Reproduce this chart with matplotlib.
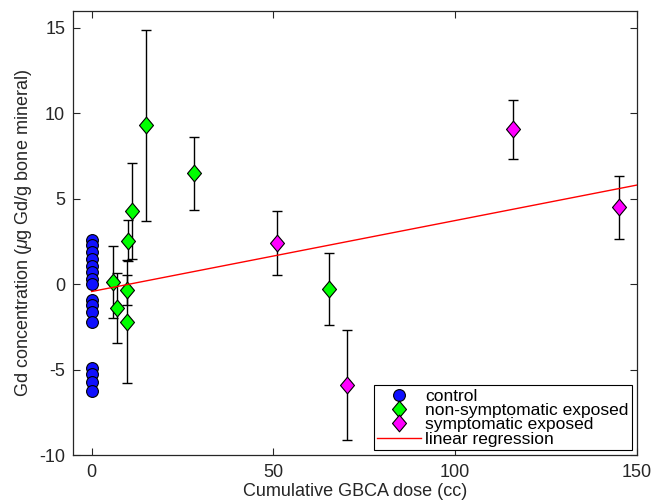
import numpy as np
import matplotlib
matplotlib.use("Agg")
import matplotlib.pyplot as plt

plt.rcParams['font.family'] = ['Liberation Sans', 'DejaVu Sans']
plt.rcParams['mathtext.fontset'] = 'custom'
plt.rcParams['mathtext.it'] = 'Liberation Sans:italic'
plt.rcParams['mathtext.rm'] = 'Liberation Sans'
plt.rcParams['axes.unicode_minus'] = False

# control group (no dose)
control_y = [2.6, 2.3, 1.9, 1.5, 1.1, 0.7, 0.3, 0.0, -0.9, -1.2, -1.6, -2.2,
             -4.9, -5.25, -5.7, -6.25]
control_x = [0] * len(control_y)

# non-symptomatic exposed
nonsym_x = [6.0, 7.0, 9.8, 9.8, 9.9, 11.0, 14.9, 28.1, 65.3]
nonsym_y = [0.12, -1.39, -0.33, -2.19, 2.55, 4.29, 9.3, 6.49, -0.29]
nonsym_err = [2.1, 2.07, 0.87, 3.6, 1.2, 2.83, 5.6, 2.15, 2.1]

# symptomatic exposed
sym_x = [50.9, 70.3, 116.0, 145.1]
sym_y = [2.4, -5.89, 9.06, 4.5]
sym_err = [1.87, 3.2, 1.72, 1.85]

# linear regression coefficients
reg_intercept = -0.42
reg_slope = 0.0415

diamond = [(-0.42, 0), (0, 0.5), (0.42, 0), (0, -0.5), (-0.42, 0)]

fig = plt.figure(figsize=(6.55, 5.03), dpi=100)
ax = fig.add_axes([0.1122, 0.0948, 0.8603, 0.8839])

ax.errorbar(nonsym_x, nonsym_y, yerr=nonsym_err, fmt='none', ecolor='black',
            elinewidth=1, capsize=3.5, capthick=1, zorder=2)
ax.errorbar(sym_x, sym_y, yerr=sym_err, fmt='none', ecolor='black',
            elinewidth=1, capsize=3.5, capthick=1, zorder=2)

ax.plot(control_x, control_y, linestyle='none', marker='o', markersize=8.5,
        markerfacecolor='#1010ff', markeredgecolor='black', markeredgewidth=0.8,
        label='control', zorder=3)
ax.plot(nonsym_x, nonsym_y, linestyle='none', marker=diamond, markersize=12,
        markerfacecolor='#00ff00', markeredgecolor='black', markeredgewidth=0.8,
        label='non-symptomatic exposed', zorder=3)
ax.plot(sym_x, sym_y, linestyle='none', marker=diamond, markersize=12,
        markerfacecolor='#ff00ff', markeredgecolor='black', markeredgewidth=0.8,
        label='symptomatic exposed', zorder=3)

xr = np.array([0, 150])
ax.plot(xr, reg_intercept + reg_slope * xr, color='red', linewidth=1,
        label='linear regression', zorder=4)

ax.set_xlim(-5, 150)
ax.set_ylim(-10, 16)
ax.set_xticks([0, 50, 100, 150])
ax.set_yticks([-10, -5, 0, 5, 10, 15])
ax.tick_params(direction='in', length=5, width=0.8, top=True, right=True,
               labelsize=13, colors='#262626', pad=6)
for s in ax.spines.values():
    s.set_color('#262626')
    s.set_linewidth(0.9)

ax.set_xlabel('Cumulative GBCA dose (cc)', fontsize=13, color='#262626', labelpad=2)
ax.set_ylabel(r'Gd concentration ($\mu$g Gd/g bone mineral)', fontsize=13,
              color='#262626', labelpad=4)

leg = ax.legend(loc='lower right', fontsize=12.5, frameon=True, fancybox=False,
                edgecolor='black', framealpha=1, labelspacing=-0.05,
                handlelength=2.5, handletextpad=0.25, borderpad=0.2,
                borderaxespad=0.3)
leg.get_frame().set_linewidth(0.8)

fig.savefig('out.png', dpi=100)
